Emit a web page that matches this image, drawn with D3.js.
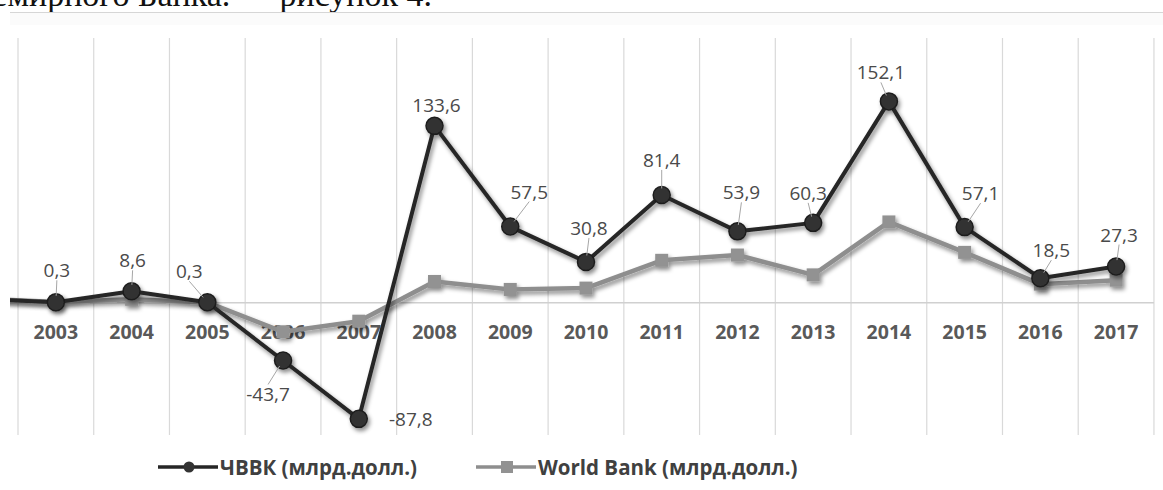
<!DOCTYPE html>
<html>
<head>
<meta charset="utf-8">
<script src="https://cdn.jsdelivr.net/npm/d3@7/dist/d3.min.js"></script>
<style>
  html, body { margin: 0; padding: 0; background: #fff; }
  svg { display: block; }
</style>
</head>
<body>
<svg id="chart" width="1163" height="490"></svg>
<script>
// Years on the category axis (2002 lies just beyond the left edge of the plot)
const years = ["2002", "2003", "2004", "2005", "2006", "2007", "2008", "2009",
               "2010", "2011", "2012", "2013", "2014", "2015", "2016", "2017"];

// Net capital flow, billion USD
const cbuValues = [3, 0.3, 8.6, 0.3, -43.7, -87.8, 133.6, 57.5,
                   30.8, 81.4, 53.9, 60.3, 152.1, 57.1, 18.5, 27.3];
const wbValues  = [3, 0.5, 2.5, 0.2, -22, -14, 16, 10,
                   11, 32, 36, 21, 61, 38, 14, 17];

// Printed value labels (null = no label)
const cbuLabels = [null, "0,3", "8,6", "0,3", "-43,7", "-87,8", "133,6", "57,5",
                   "30,8", "81,4", "53,9", "60,3", "152,1", "57,1", "18,5", "27,3"];

// Year ticks printed under the plot
const tickYears = years.slice(1);

const seriesNames = ["ЧВВК (млрд.долл.)", "World Bank (млрд.долл.)"];
const yDomain = [-100, 200];

// Label placement relative to its marker (dx, dy of label centre)
const labelOffsets = [null, [1, -32], [1, -31], [-18, -31], [-15, 34], [52, 0],
                      [2, -21], [19, -35], [3, -34], [0, -35], [4, -39],
                      [-5, -30], [-8, -29], [16, -34], [11, -28], [3, -32]];

const svg = d3.select("#chart");
const defs = svg.append("defs");

const shadow = defs.append("filter").attr("id", "shadow")
  .attr("x", "-30%").attr("y", "-30%").attr("width", "160%").attr("height", "160%");
shadow.append("feDropShadow")
  .attr("dx", 2).attr("dy", 3).attr("stdDeviation", 2.2)
  .attr("flood-color", "#000").attr("flood-opacity", 0.45);

defs.append("clipPath").attr("id", "plotClip")
  .append("rect").attr("x", 10).attr("y", 0).attr("width", 1153).attr("height", 490);

// Heading text above the chart (cut by the top edge)
svg.append("text")
  .attr("x", 432).attr("y", 6)
  .attr("text-anchor", "end")
  .attr("font-family", "'Liberation Serif', 'Times New Roman', serif")
  .attr("font-size", 34)
  .attr("fill", "#111")
  .text("Всемирного Банка.” – рисунок 4.");

svg.append("rect").attr("x", 10).attr("y", 13).attr("width", 1153).attr("height", 12)
  .attr("fill", "#fbfbfb");
svg.append("line").attr("x1", 10).attr("x2", 1163).attr("y1", 12.5).attr("y2", 12.5)
  .attr("stroke", "#d6d6d6").attr("stroke-width", 1);

const step = 75.73;
const x = d3.scaleBand()
  .domain(years)
  .range([18 - step, 18 + step * 15])
  .paddingInner(0).paddingOuter(0);
const y = d3.scaleLinear().domain(yDomain).range([435, 38]);
const cx = d => x(d) + x.bandwidth() / 2;

const plot = svg.append("g").attr("clip-path", "url(#plotClip)");

// Vertical gridlines at category boundaries
const bounds = years.map(d => x(d)).concat([x(years[years.length - 1]) + x.bandwidth()]);
plot.append("g").selectAll("line").data(bounds).join("line")
  .attr("x1", d => d).attr("x2", d => d)
  .attr("y1", y(yDomain[1])).attr("y2", y(yDomain[0]))
  .attr("stroke", "#d9d9d9").attr("stroke-width", 1.2);

// Zero baseline
plot.append("line")
  .attr("x1", 10).attr("x2", bounds[bounds.length - 1])
  .attr("y1", y(0)).attr("y2", y(0))
  .attr("stroke", "#d0d0d0").attr("stroke-width", 1.5);

// Category labels under the zero line
const xAxis = d3.axisBottom(x).tickValues(tickYears).tickSize(0).tickPadding(0);
const axisG = plot.append("g").attr("transform", `translate(0,${y(0) + 30})`).call(xAxis);
axisG.select(".domain").remove();
axisG.selectAll("text")
  .attr("font-family", "'Open Sans', sans-serif")
  .attr("font-size", 19.5)
  .attr("font-weight", "bold")
  .attr("fill", "#595959")
  .attr("dy", "0.35em");

const lineGen = d3.line().x((d, i) => cx(years[i])).y(d => y(d));

// World Bank series
const wbG = plot.append("g").attr("filter", "url(#shadow)");
wbG.append("path").datum(wbValues)
  .attr("d", lineGen).attr("fill", "none")
  .attr("stroke", "#8e8e8e").attr("stroke-width", 4.5).attr("stroke-linejoin", "round");
const sq = 13;
wbG.selectAll("rect").data(wbValues).join("rect")
  .attr("x", (d, i) => cx(years[i]) - sq / 2)
  .attr("y", d => y(d) - sq / 2)
  .attr("width", sq).attr("height", sq)
  .attr("fill", "#929292");

// ЧВВК series
const cbuG = plot.append("g").attr("filter", "url(#shadow)");
cbuG.append("path").datum(cbuValues)
  .attr("d", lineGen).attr("fill", "none")
  .attr("stroke", "#262626").attr("stroke-width", 4).attr("stroke-linejoin", "round");
const r = 8.5;
cbuG.selectAll("circle").data(cbuValues).join("circle")
  .attr("cx", (d, i) => cx(years[i]))
  .attr("cy", d => y(d))
  .attr("r", r)
  .attr("fill", "#333")
  .attr("stroke", "#1e1e1e").attr("stroke-width", 1.5);

// Value labels with leader lines
const labelData = cbuValues.map((v, i) => ({ v, i, text: cbuLabels[i], off: labelOffsets[i] }))
  .filter(d => d.text !== null);

labelData.forEach(d => {
  const mx = cx(years[d.i]), my = y(d.v);
  const lx = mx + d.off[0], ly = my + d.off[1];
  const sx = lx, sy = d.off[1] < 0 ? ly + 10 : ly - 10;
  const dx = sx - mx, dy = sy - my;
  const len = Math.hypot(dx, dy);
  if (len > r + 4 && Math.abs(d.off[1]) > 12) {
    const ex = mx + dx / len * (r - 2), ey = my + dy / len * (r - 2);
    plot.append("line")
      .attr("x1", sx).attr("y1", sy).attr("x2", ex).attr("y2", ey)
      .attr("stroke", "#a6a6a6").attr("stroke-width", 1);
  }
  plot.append("text")
    .attr("x", lx).attr("y", ly)
    .attr("text-anchor", "middle")
    .attr("dominant-baseline", "central")
    .attr("font-family", "'Open Sans', sans-serif")
    .attr("font-size", 19)
    .attr("fill", "#4a4a4a")
    .text(d.text);
});

// Legend
const legend = svg.append("g").attr("transform", "translate(0,467)");
const items = [
  { name: seriesNames[0], x0: 158, color: "#262626", shape: "circle" },
  { name: seriesNames[1], x0: 476, color: "#8e8e8e", shape: "square" }
];
items.forEach(it => {
  const g = legend.append("g").attr("transform", `translate(${it.x0},0)`);
  g.append("line").attr("x1", 0).attr("x2", 60).attr("y1", 0).attr("y2", 0)
    .attr("stroke", it.color).attr("stroke-width", 3.5);
  if (it.shape === "circle") {
    g.append("circle").attr("cx", 31).attr("cy", 0).attr("r", 5.5).attr("fill", "#333");
  } else {
    g.append("rect").attr("x", 25).attr("y", -6).attr("width", 12).attr("height", 12).attr("fill", "#929292");
  }
  g.append("text")
    .attr("x", 62).attr("y", 0)
    .attr("dominant-baseline", "central")
    .attr("font-family", "'Open Sans', sans-serif")
    .attr("font-size", 20.5)
    .attr("font-weight", "bold")
    .attr("fill", "#404040")
    .text(it.name);
});
</script>
</body>
</html>
